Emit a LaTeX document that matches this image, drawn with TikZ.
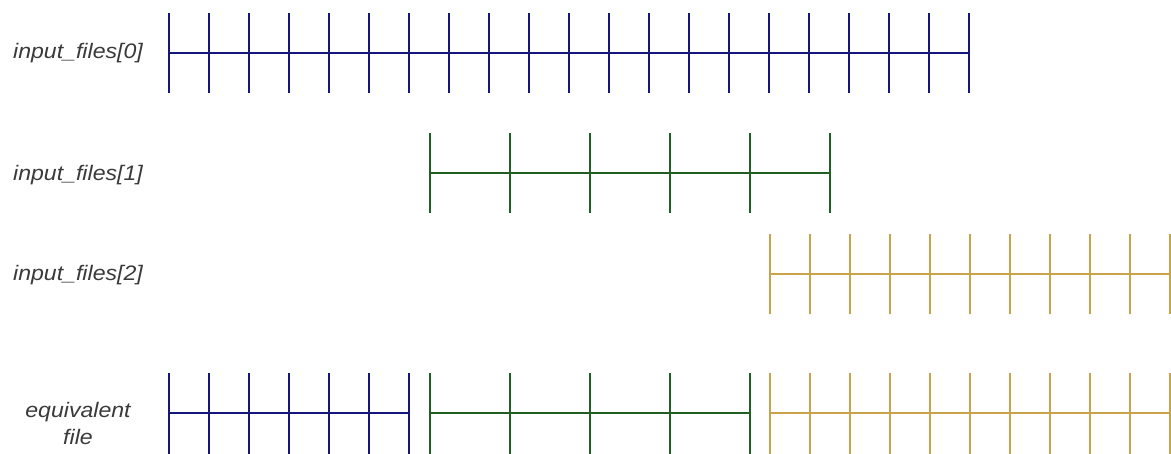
\documentclass[tikz,border=0pt]{standalone}
\usepackage{fontspec}
\newfontfamily\labfont{Liberation Sans}[FakeStretch=1.1]
\definecolor{fnavy}{HTML}{16167A}
\definecolor{fgreen}{HTML}{1F5F22}
\definecolor{fgold}{HTML}{C9A24A}
\definecolor{flabel}{HTML}{3A3A3A}
\begin{document}
\begin{tikzpicture}[x=1pt,y=-1pt,
  lab/.style={font=\labfont\itshape\fontsize{21}{27}\selectfont, text=flabel, align=center, inner sep=0pt},
  seg/.style={line width=1.6pt, line cap=butt},
  tick/.style={line width=1.6pt}]
\useasboundingbox (0,0) rectangle (1171,453);
% labels
\node[lab] (l0) at (78,53) {input\_files[0]};
\node[lab] (l1) at (78,175) {input\_files[1]};
\node[lab] (l2) at (78,275) {input\_files[2]};
\node[lab] (l3) at (78,423) {equivalent\\file};
% row 0
\draw[seg,fnavy] (169,53) -- (969,53);
\foreach \x in {0,...,20} \draw[tick,fnavy] (169+40*\x,13) -- (169+40*\x,93);
% row 1
\draw[seg,fgreen] (430,173) -- (830,173);
\foreach \x in {0,...,5} \draw[tick,fgreen] (430+80*\x,133) -- (430+80*\x,213);
% row 2
\draw[seg,fgold] (770,274) -- (1171,274);
\foreach \x in {0,...,10} \draw[tick,fgold] (770+40*\x,234) -- (770+40*\x,314);
% row 3
\draw[seg,fnavy] (169,413) -- (409,413);
\foreach \x in {0,...,6} \draw[tick,fnavy] (169+40*\x,373) -- (169+40*\x,455);
\draw[seg,fgreen] (430,413) -- (750,413);
\foreach \x in {0,...,4} \draw[tick,fgreen] (430+80*\x,373) -- (430+80*\x,455);
\draw[seg,fgold] (770,413) -- (1171,413);
\foreach \x in {0,...,10} \draw[tick,fgold] (770+40*\x,373) -- (770+40*\x,455);
\end{tikzpicture}
\end{document}
